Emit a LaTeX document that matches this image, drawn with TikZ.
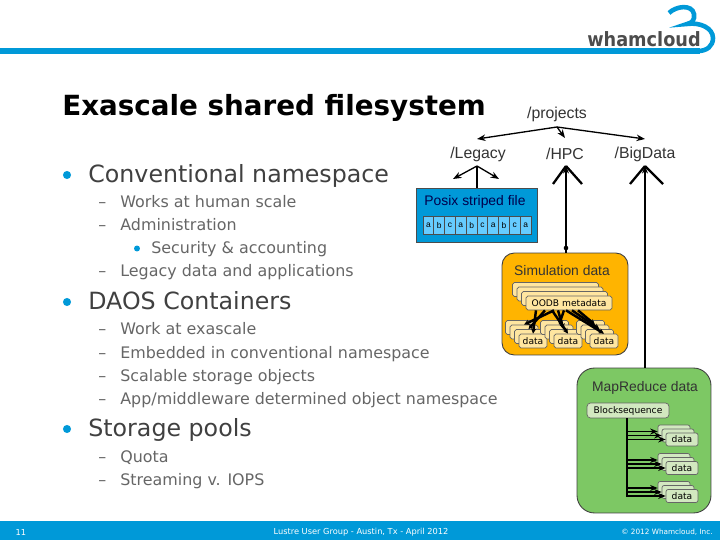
\documentclass[tikz,border=0pt]{standalone}
\usepackage{fontspec}
\setmainfont{DejaVu Sans}
\newfontfamily\arialfont{Liberation Sans}
\usetikzlibrary{arrows.meta}
\definecolor{wblue}{HTML}{0099D8}
\definecolor{cellblue}{HTML}{66CCFF}
\definecolor{simfill}{HTML}{FFB400}
\definecolor{simbox}{HTML}{FFE6A0}
\definecolor{mapfill}{HTML}{7DC864}
\definecolor{mapbox}{HTML}{D2E8C0}
\tikzset{
  ttl/.style={anchor=base west,inner sep=0pt,font=\fontsize{15.8}{18}\bfseries\selectfont},
  lva/.style={anchor=base west,inner sep=0pt,text=black!75,font=\fontsize{13.5}{16}\selectfont},
  lvb/.style={anchor=base west,inner sep=0pt,text=black!60,font=\fontsize{9.05}{11}\selectfont},
  lbl/.style={inner sep=0pt,text=black!80,font=\arialfont\fontsize{9}{10}\selectfont},
  lbs/.style={inner sep=0pt,text=black!80,font=\arialfont\fontsize{7.9}{10}\selectfont},
  bul/.style={circle,fill=wblue,inner sep=0pt,minimum size=#1},
  ftr/.style={inner sep=0pt,text=white,font=\fontsize{4.7}{5}\selectfont},
  ar/.style ={-{Stealth[length=1.7mm,width=1.3mm]},line width=.75pt},
  br/.style ={line width=1.3pt,line cap=butt},
  arb/.style={-{Stealth[length=1.5mm,width=1.2mm]},line width=1pt},
  ars/.style={-{Stealth[length=1.1mm,width=1.1mm]},line width=1.4pt},
  cell/.style={draw=black!70,fill=cellblue,line width=.4pt,minimum width=.216cm,minimum height=.36cm,
               inner sep=0pt,text=black,font=\arialfont\fontsize{4.8}{5}\selectfont},
  pool/.style={draw=black!75,line width=.5pt},
  sim/.style ={draw=black!60,fill=simbox,rounded corners=1pt,line width=.4pt,inner sep=0pt,
               minimum height=.28cm},
  mpr/.style ={draw=black!60,fill=mapbox,rounded corners=1.2pt,line width=.4pt,inner sep=0pt,
               minimum height=.26cm},
  tag/.style ={inner sep=0pt,font=\fontsize{5.2}{6}\selectfont},
}
\begin{document}
\begin{tikzpicture}[x=.02cm,y=-.02cm]
  \useasboundingbox (0,0) rectangle (720,540);
  % header line and logo
  \fill[wblue] (0,48) rectangle (700,54);
  \draw[wblue,line width=2.6pt] (669,13) .. controls (676,6) and (692,4) .. (694,14)
       .. controls (695,20) and (692,23) .. (687,24)
       .. controls (700,22) and (713,28) .. (713,38)
       .. controls (713,46) and (707,51) .. (698,51);
  \node[inner sep=0pt,anchor=base east,text=black!70,transform shape,xscale=.9,
        font=\fontsize{11.2}{12}\bfseries\selectfont] (logo) at (701,47){whamcloud};
  % footer
  \fill[wblue] (0,521) rectangle (720,540);
  \node[ftr] (pagenum) at (21,532){11};
  \node[ftr] (event) at (361,532){Lustre User Group - Austin, Tx - April 2012};
  \node[ftr,font=\fontsize{4.15}{5}\selectfont] (copy) at (667,532){© 2012 Whamcloud, Inc.};
  % slide text
  \node[ttl] (title) at (62,116){Exascale shared filesystem};
  \node[bul=4.6pt] (ba) at (67,175){};
  \node[lva] (conv) at (88,183){Conventional namespace};
  \foreach \nm/\yy/\txt in {works/208/Works at human scale,admin/231/Administration,
      legacy/277/Legacy data and applications,wexa/335/Work at exascale,
      embed/358/Embedded in conventional namespace,scal/381/Scalable storage objects,
      appm/404/{App/middleware determined object namespace},quota/462/Quota,
      strm/485/Streaming v. IOPS}{
    \node[lvb] (d\nm) at (98,\yy){–};
    \node[lvb] (\nm) at (120,\yy){\txt};
  }
  \node[bul=3.4pt] (bs) at (137,248.5){};
  \node[lvb] (secu) at (151,254){Security \& accounting};
  \node[bul=4.6pt] (bd) at (67,302){};
  \node[lva] (daos) at (88,310){DAOS Containers};
  \node[bul=4.6pt] (bp) at (67,429){};
  \node[lva] (stor) at (88,437){Storage pools};
  % namespace labels
  \node[lbl] (proj) at (557,114){/projects};
  \node[lbl] (lgcy) at (478,154){/Legacy};
  \node[lbl] (hpc) at (565,154){/HPC};
  \node[lbl] (bigd) at (645,154){/BigData};
  \coordinate (projc) at (557,127);
  \draw[ar] (projc) -- (477,139) coordinate (pa);
  \draw[ar] (projc) -- (565,138) coordinate (pb);
  \draw[ar] (projc) -- (645,139) coordinate (pc);
  % posix file
  \node[draw=black!70,fill=wblue,line width=.4pt,minimum width=2.42cm,minimum height=1.08cm] (posix) at (476.5,215){};
  \node[lbs,text=blue!30!black] (posixt) at (475,202){Posix striped file};
  \foreach \ii/\ch in {0/a,1/b,2/c,3/a,4/b,5/c,6/a,7/b,8/c,9/a}
    \node[cell] (c\ii) at ({428.4+\ii*10.8},225){\ch};
  \coordinate (lg) at (477,166);
  \draw[ar] (lg) -- (453,179) coordinate (la);
  \draw[ar] (lg) -- (499,179) coordinate (lb);
  \draw[line width=.9pt] (lg) -- (lg |- posix.north);
  % simulation data
  \node[pool,fill=simfill,rounded corners=7pt,minimum width=2.52cm,minimum height=2.04cm] (simu) at (565,304){};
  \node[lbs] (simt) at (562,271){Simulation data};
  \foreach \ii in {3,2,1,0}
    \node[sim,minimum width=1.72cm] (meta\ii) at ({569-\ii*4.5},{303-\ii*4.5}){};
  \node[tag] (metat) at (569,303){OODB metadata};
  % data stacks, then the object lines over them
  \foreach \sx/\sn in {533/a,568/b,604/c}
    \foreach \ii in {3,2,1,0}
      \node[sim,minimum width=.56cm] (d\sn\ii) at ({\sx-\ii*4.5},{341-\ii*4.5}){};
  \foreach \sn/\ss/\st in {a/-33/9,b/-17/6,c/-3/6}
    \foreach \ii in {0,1,2}
      \draw[ars] (meta0.south) ++({\ss+\ii*\st},0) -- (d\sn\ii.north);
  \foreach \sx/\sn in {533/a,568/b,604/c}
    \node[tag] (dt\sn) at (\sx,341.5){data};
  % hpc arrows
  \coordinate (hp) at (566,166);
  \draw[br] (hp) -- (553,184) coordinate (ha);
  \draw[br] (hp) -- (582,184) coordinate (hb);
  \draw[arb] (simu.north -| hp) -- (hp);
  \node[circle,fill=black,inner sep=0pt,minimum size=2.6pt] (hdot) at (566,248){};
  % bigdata arrows
  \coordinate (bg) at (645,166);
  \draw[br] (bg) -- (630,184) coordinate (ba2);
  \draw[br] (bg) -- (663,184) coordinate (bb2);
  % mapreduce data
  \node[pool,fill=mapfill,rounded corners=10pt,minimum width=2.68cm,minimum height=2.9cm] (mapr) at (644,440.5){};
  \draw[arb] (mapr.north -| bg) -- (bg);
  \node[lbs] (mapt) at (645,388){MapReduce data};
  \node[mpr,rounded corners=2pt,minimum width=1.64cm,minimum height=.3cm] (blks) at (628,410.5){};
  \node[tag] (blkt) at (628,410.5){Blocksequence};
  \coordinate (tr) at (627,497);
  \draw[line width=1pt] (blks.south -| tr) -- (tr);
  \foreach \yy/\sn in {439.5/a,468/b,496/c}{
    \foreach \ii in {2,1,0}{
      \node[mpr,minimum width=.64cm] (m\sn\ii) at ({682-\ii*4},{\yy-\ii*4}){};
      \draw[arb] (m\sn\ii.west -| tr) -- (m\sn\ii.west);
    }
    \node[tag] (mt\sn) at (682,\yy){data};
  }
\end{tikzpicture}
\end{document}
